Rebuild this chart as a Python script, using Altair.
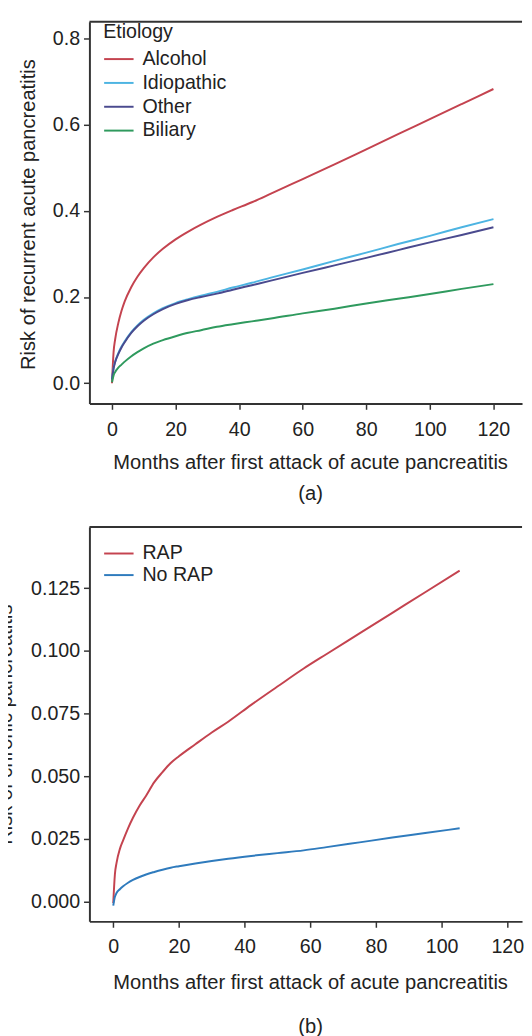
import altair as alt
import pandas as pd

# ---------------- data ----------------
etiologies = ["Alcohol", "Idiopathic", "Other", "Biliary"]
etiology_colors = ["#c4434f", "#4db4e2", "#4a4a8e", "#2f9a5e"]

months_a = [0, 0.5, 1, 2, 3, 4, 6, 8, 10, 13, 16, 20, 24, 28, 33, 38, 44, 50, 60, 70, 80, 90, 100, 110, 120]
alcohol = [0.0, 0.072, 0.102, 0.14, 0.168, 0.19, 0.222, 0.247, 0.267, 0.292, 0.312, 0.334, 0.352, 0.368,
           0.386, 0.402, 0.42, 0.44, 0.474, 0.508, 0.543, 0.578, 0.613, 0.648, 0.683]
idiopathic = [0.008, 0.035, 0.05, 0.07, 0.085, 0.097, 0.118, 0.134, 0.147, 0.162, 0.174, 0.186, 0.195, 0.203,
              0.212, 0.222, 0.233, 0.245, 0.264, 0.284, 0.303, 0.323, 0.342, 0.362, 0.381]
other = [0.008, 0.034, 0.049, 0.068, 0.083, 0.095, 0.116, 0.132, 0.145, 0.16, 0.172, 0.184, 0.193, 0.2,
         0.208, 0.217, 0.2275, 0.238, 0.256, 0.2735, 0.291, 0.309, 0.327, 0.344, 0.362]
biliary = [0.002, 0.018, 0.026, 0.036, 0.043, 0.05, 0.062, 0.072, 0.081, 0.092, 0.1, 0.109, 0.117, 0.123,
           0.131, 0.137, 0.1435, 0.15, 0.162, 0.173, 0.185, 0.196, 0.207, 0.219, 0.23]

groups_b = ["RAP", "No RAP"]
group_colors = ["#c4434f", "#2f7bbd"]
months_b = [0, 0.5, 1, 2, 3, 4.5, 6, 8, 10, 12.5, 15, 17.5, 20, 25, 30, 35, 42, 50, 58, 65, 75, 85, 95, 105.5]
rap = [-0.0005, 0.011, 0.0155, 0.021, 0.0245, 0.0293, 0.0335, 0.0383, 0.0423, 0.0477, 0.0517, 0.0553, 0.058,
       0.0628, 0.0675, 0.0718, 0.0785, 0.0858, 0.093, 0.0988, 0.107, 0.1152, 0.1234, 0.132]
no_rap = [-0.0015, 0.002, 0.0035, 0.005, 0.0062, 0.0076, 0.0087, 0.0099, 0.0109, 0.0119, 0.0128, 0.0136, 0.0142,
          0.0153, 0.0163, 0.0172, 0.0183, 0.0194, 0.0205, 0.0218, 0.0237, 0.0256, 0.0274, 0.0293]

x_ticks = [0, 20, 40, 60, 80, 100, 120]
y_ticks_a = [0.0, 0.2, 0.4, 0.6, 0.8]
y_ticks_b = [0.0, 0.025, 0.05, 0.075, 0.1, 0.125]

x_title = "Months after first attack of acute pancreatitis"
y_title_a = "Risk of recurrent acute pancreatitis"
y_title_b = "Risk of chronic pancreatitis"

# ---------------- tables ----------------
rows_a = []
for name, vals in zip(etiologies, [alcohol, idiopathic, other, biliary]):
    for m, v in zip(months_a, vals):
        rows_a.append({"month": m, "risk": v, "Etiology": name})
df_a = pd.DataFrame(rows_a)

rows_b = []
for name, vals in zip(groups_b, [rap, no_rap]):
    for m, v in zip(months_b, vals):
        rows_b.append({"month": m, "risk": v, "group": name})
df_b = pd.DataFrame(rows_b)

FONT = "Liberation Sans"
W = 441
H_A = 389
H_B = 402
AX = "#333333"
TXT = "#222222"
LINE_SYMBOL = "M-1,0H2"

one = pd.DataFrame({"k": [0]})

# ---------------- panel (a) ----------------
lines_a = alt.Chart(df_a).mark_line(strokeWidth=2, interpolate="monotone").encode(
    x=alt.X("month:Q",
            scale=alt.Scale(domain=[-7.1, 129.0], nice=False, zero=False),
            axis=alt.Axis(values=x_ticks, format="d", title=[x_title, "(a)"],
                          titleX=225, titleY=66, titleBaseline="alphabetic", titleAlign="center",
                          titleLineHeight=32, labelPadding=10.5)),
    y=alt.Y("risk:Q",
            scale=alt.Scale(domain=[-0.047, 0.839], nice=False, zero=False),
            axis=alt.Axis(values=y_ticks_a, format=".1f", title=y_title_a,
                          titleX=-56, titleY=196, titleAngle=270, titleBaseline="alphabetic",
                          titleAlign="center", labelPadding=4)),
    color=alt.Color("Etiology:N",
                    scale=alt.Scale(domain=etiologies, range=etiology_colors),
                    legend=alt.Legend(title="Etiology", orient="none", legendX=14, legendY=0,
                                      symbolType=LINE_SYMBOL, symbolSize=400, symbolStrokeWidth=2,
                                      labelOffset=18, rowPadding=3.3, titlePadding=7,
                                      titleFontSize=20, titleFontWeight="normal", titleFont=FONT,
                                      titleColor=TXT, labelFontSize=20, labelFont=FONT,
                                      labelColor=TXT, padding=0)),
)
top_a = alt.Chart(one).mark_rule(color=AX, strokeWidth=2).encode(
    x=alt.value(0), x2=alt.value(W), y=alt.value(0))
panel_a = alt.layer(lines_a, top_a).properties(width=W, height=H_A)

# ---------------- panel (b) ----------------
lines_b = alt.Chart(df_b).mark_line(strokeWidth=2, interpolate="monotone").encode(
    x=alt.X("month:Q",
            scale=alt.Scale(domain=[-7.26, 124.5], nice=False, zero=False),
            axis=alt.Axis(values=x_ticks, format="d", title=[x_title, "(b)"],
                          titleX=225, titleY=68.6, titleBaseline="alphabetic", titleAlign="center",
                          titleLineHeight=45, labelPadding=9.5)),
    y=alt.Y("risk:Q",
            scale=alt.Scale(domain=[-0.0078, 0.1494], nice=False, zero=False),
            axis=alt.Axis(values=y_ticks_b, format=".3f", title=y_title_b,
                          titleX=-79, titleY=201, titleAngle=270, titleBaseline="alphabetic",
                          titleAlign="center", labelPadding=4)),
    color=alt.Color("group:N",
                    scale=alt.Scale(domain=groups_b, range=group_colors),
                    legend=alt.Legend(title=None, orient="none", legendX=14, legendY=16,
                                      symbolType=LINE_SYMBOL, symbolSize=400, symbolStrokeWidth=2,
                                      labelOffset=18, rowPadding=1,
                                      labelFontSize=20, labelFont=FONT,
                                      labelColor=TXT, padding=0)),
)
top_b = alt.Chart(one).mark_rule(color=AX, strokeWidth=2).encode(
    x=alt.value(0), x2=alt.value(W), y=alt.value(0))
panel_b = alt.layer(lines_b, top_b).properties(width=W, height=H_B)

chart = alt.vconcat(panel_a, panel_b, spacing=22).resolve_scale(
    color="independent", x="independent", y="independent"
).properties(
    padding={"left": -12, "top": 3, "right": 0, "bottom": 0},
    background="white",
).configure_view(stroke=None).configure_axis(
    grid=False, labelFont=FONT, labelFontSize=20, labelColor=TXT,
    titleFont=FONT, titleFontSize=20.5, titleFontWeight="normal", titleColor=TXT,
    domainColor=AX, domainWidth=2, tickColor=AX, tickWidth=1.5, tickSize=6,
)

chart.save("out.html", embed_options={"renderer": "svg", "actions": False})
